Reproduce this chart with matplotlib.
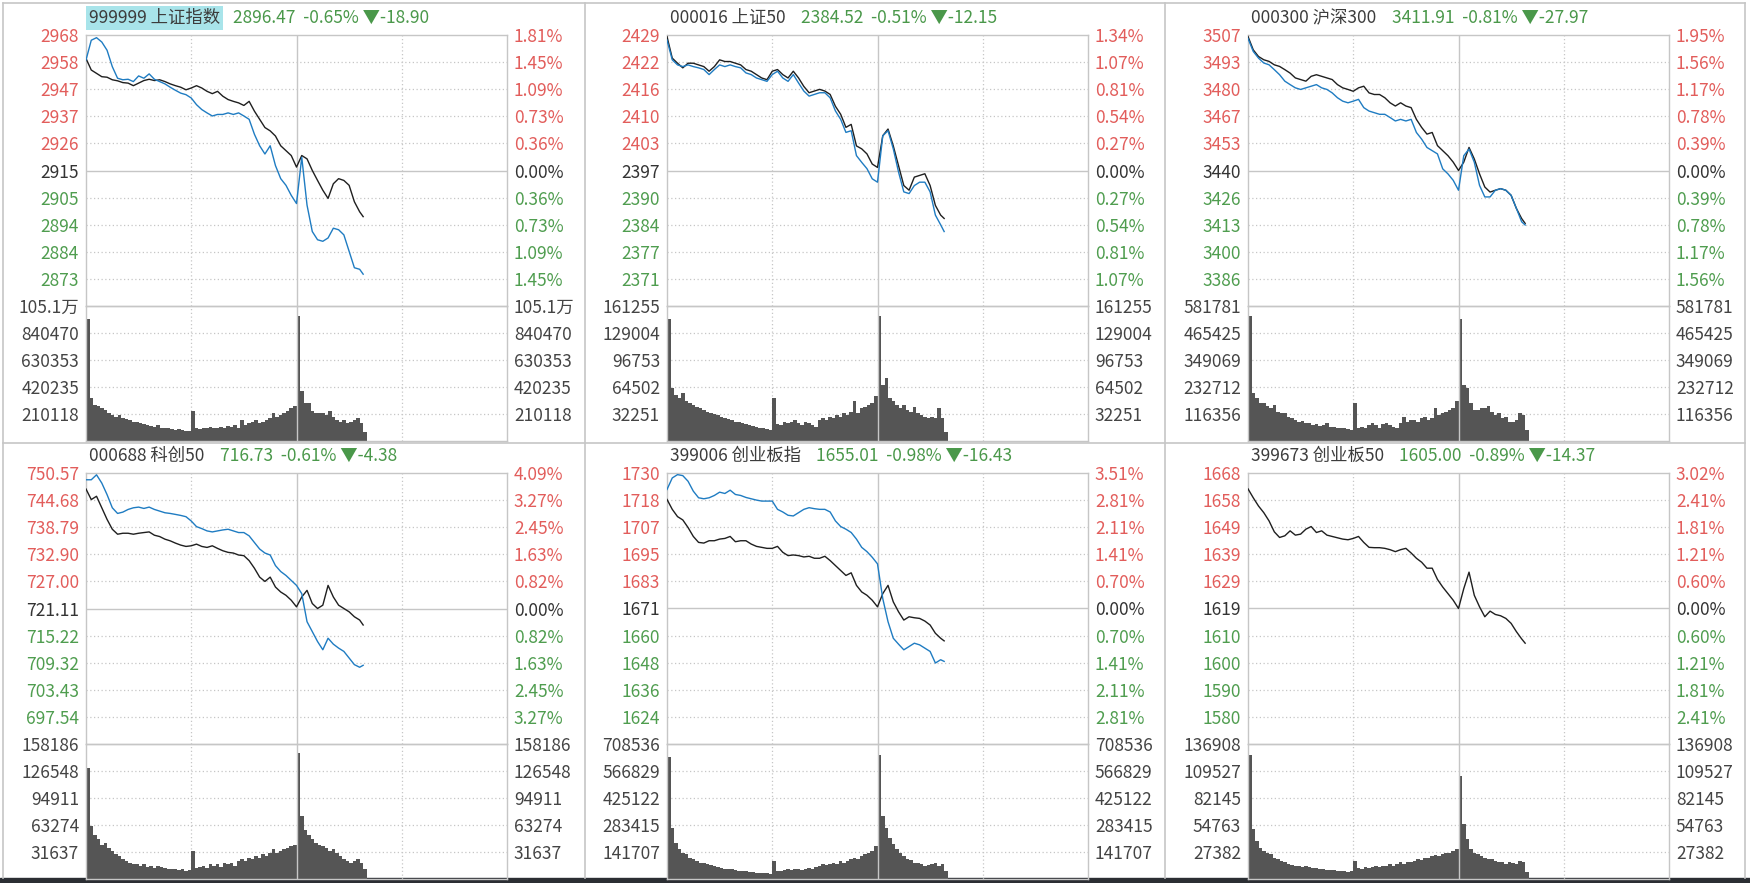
import matplotlib
matplotlib.use('Agg')
import matplotlib.pyplot as plt

plt.rcParams['font.family'] = ['Noto Sans CJK SC', 'DejaVu Sans']

# ---------------- data ----------------
minutes = list(range(0, 157, 3)) + [158]
vol_minutes = list(range(0, 160, 2))

names = ['999999 上证指数', '000016 上证50', '000300 沪深300',
         '000688 科创50', '399006 创业板指', '399673 创业板50']
quotes = ['2896.47  -0.65% ▼-18.90', '2384.52  -0.51% ▼-12.15', '3411.91  -0.81% ▼-27.97',
          '716.73  -0.61% ▼-4.38', '1655.01  -0.98% ▼-16.43', '1605.00  -0.89% ▼-14.37']
prev_close = [2915.37, 2396.67, 3439.88, 721.11, 1671.44, 1619.37]
pct_top = [1.81, 1.34, 1.95, 4.09, 3.51, 3.02]

price_labels = [
    ['2968', '2958', '2947', '2937', '2926', '2915', '2905', '2894', '2884', '2873'],
    ['2429', '2422', '2416', '2410', '2403', '2397', '2390', '2384', '2377', '2371'],
    ['3507', '3493', '3480', '3467', '3453', '3440', '3426', '3413', '3400', '3386'],
    ['750.57', '744.68', '738.79', '732.90', '727.00', '721.11', '715.22', '709.32', '703.43', '697.54'],
    ['1730', '1718', '1707', '1695', '1683', '1671', '1660', '1648', '1636', '1624'],
    ['1668', '1658', '1649', '1639', '1629', '1619', '1610', '1600', '1590', '1580'],
]
pct_labels = [
    ['1.81%', '1.45%', '1.09%', '0.73%', '0.36%', '0.00%', '0.36%', '0.73%', '1.09%', '1.45%'],
    ['1.34%', '1.07%', '0.81%', '0.54%', '0.27%', '0.00%', '0.27%', '0.54%', '0.81%', '1.07%'],
    ['1.95%', '1.56%', '1.17%', '0.78%', '0.39%', '0.00%', '0.39%', '0.78%', '1.17%', '1.56%'],
    ['4.09%', '3.27%', '2.45%', '1.63%', '0.82%', '0.00%', '0.82%', '1.63%', '2.45%', '3.27%'],
    ['3.51%', '2.81%', '2.11%', '1.41%', '0.70%', '0.00%', '0.70%', '1.41%', '2.11%', '2.81%'],
    ['3.02%', '2.41%', '1.81%', '1.21%', '0.60%', '0.00%', '0.60%', '1.21%', '1.81%', '2.41%'],
]
vol_max = [1051.0, 161.255, 581.781, 158.186, 708.536, 136.908]   # thousands
vol_labels = [
    ['105.1万', '840470', '630353', '420235', '210118'],
    ['161255', '129004', '96753', '64502', '32251'],
    ['581781', '465425', '349069', '232712', '116356'],
    ['158186', '126548', '94911', '63274', '31637'],
    ['708536', '566829', '425122', '283415', '141707'],
    ['136908', '109527', '82145', '54763', '27382'],
]

sh_black = [2959.0, 2954.5, 2953.2, 2951.9, 2951.7, 2950.7, 2950.3, 2949.6, 2949.4, 2948.4,
            2949.4, 2950.4, 2950.9, 2950.4, 2950.7, 2950.0, 2949.1, 2948.4, 2947.8, 2946.8,
            2947.5, 2948.4, 2947.5, 2946.2, 2945.3, 2946.2, 2944.3, 2943.0, 2942.3, 2941.7,
            2940.7, 2942.3, 2938.5, 2935.3, 2932.1, 2930.8, 2928.8, 2925.0, 2923.1, 2921.2,
            2916.7, 2921.2, 2919.9, 2915.4, 2911.5, 2907.7, 2904.5, 2910.2, 2912.2, 2911.5,
            2909.6, 2903.2, 2899.3, 2897.4]
sh_blue = [2958.4, 2966.1, 2967.1, 2965.4, 2962.2, 2955.8, 2951.3, 2950.7, 2950.9, 2950.0,
           2952.2, 2951.3, 2953.0, 2950.9, 2950.0, 2949.1, 2947.8, 2946.6, 2945.5, 2944.9,
           2943.6, 2941.0, 2939.1, 2937.8, 2936.6, 2937.2, 2937.2, 2937.8, 2937.2, 2937.8,
           2936.6, 2935.3, 2929.5, 2925.0, 2921.8, 2925.0, 2917.3, 2912.2, 2909.6, 2905.7,
           2902.5, 2920.5, 2901.9, 2891.6, 2888.4, 2887.8, 2889.1, 2892.9, 2892.3, 2890.3,
           2883.9, 2877.5, 2876.9, 2875.0]
sh_vol = [947, 334, 282, 269, 256, 243, 216, 203, 190, 203,
          177, 172, 164, 151, 151, 138, 130, 125, 120, 112,
          125, 104, 99, 104, 94, 86, 94, 86, 78, 78,
          230, 99, 94, 104, 99, 112, 104, 99, 112, 99,
          120, 112, 125, 104, 164, 125, 138, 151, 164, 138,
          151, 164, 177, 216, 190, 203, 216, 230, 256, 269,
          973, 386, 295, 295, 230, 216, 216, 216, 203, 230,
          190, 164, 151, 164, 138, 151, 164, 177, 138, 73]

sz50_black = [2428.4, 2423.3, 2422.1, 2421.0, 2422.1, 2422.1, 2421.7, 2421.3, 2420.2, 2421.3,
              2422.9, 2422.5, 2422.5, 2422.1, 2421.7, 2420.6, 2420.2, 2419.4, 2418.6, 2418.2,
              2420.2, 2420.6, 2419.4, 2418.6, 2420.2, 2418.6, 2416.6, 2415.1, 2415.5, 2415.9,
              2415.5, 2414.7, 2411.9, 2410.0, 2406.9, 2407.6, 2402.5, 2401.8, 2400.6, 2398.2,
              2397.4, 2404.9, 2406.5, 2402.5, 2397.8, 2393.1, 2392.0, 2395.1, 2395.5, 2395.9,
              2393.1, 2388.4, 2386.1, 2385.3]
sz50_blue = [2427.6, 2422.9, 2421.7, 2421.3, 2421.7, 2421.3, 2421.0, 2420.6, 2419.4, 2420.6,
             2421.7, 2421.3, 2421.7, 2421.3, 2421.0, 2419.8, 2419.4, 2418.6, 2418.2, 2417.8,
             2419.4, 2420.2, 2418.6, 2417.8, 2419.4, 2417.4, 2415.5, 2414.3, 2414.7, 2415.1,
             2415.1, 2413.9, 2410.8, 2408.8, 2405.7, 2406.1, 2400.2, 2398.6, 2397.1, 2394.7,
             2393.9, 2404.9, 2406.1, 2401.8, 2396.3, 2391.6, 2391.2, 2393.1, 2393.9, 2393.9,
             2391.6, 2386.1, 2383.8, 2382.2]
sz50_vol = [145.2, 63.2, 55.2, 51.2, 57.2, 47.2, 45.2, 43.2, 41.2, 39.2,
            37.2, 35.2, 33.2, 32.0, 31.2, 29.2, 27.2, 26.4, 25.2, 23.2,
            23.2, 21.2, 20.0, 19.2, 18.4, 17.2, 16.0, 15.2, 14.4, 13.2,
            51.2, 20.0, 19.2, 23.2, 21.2, 23.2, 25.2, 21.2, 19.2, 23.2,
            21.2, 19.2, 17.2, 25.2, 27.2, 25.2, 29.2, 27.2, 31.2, 29.2,
            33.2, 31.2, 35.2, 47.2, 33.2, 39.2, 41.2, 43.2, 45.2, 53.2,
            149.2, 67.2, 75.2, 51.2, 47.2, 43.2, 39.2, 43.2, 37.2, 35.2,
            41.2, 33.2, 31.2, 29.2, 27.2, 29.2, 28.0, 39.2, 27.2, 11.2]

hs300_black = [3506.2, 3499.6, 3496.3, 3494.7, 3493.9, 3492.2, 3491.4, 3489.8, 3488.1, 3485.7,
               3484.9, 3484.1, 3486.5, 3487.3, 3486.5, 3485.7, 3484.9, 3482.4, 3480.8, 3480.0,
               3479.1, 3480.8, 3481.6, 3478.3, 3477.5, 3477.5, 3475.9, 3473.4, 3471.8, 3473.4,
               3471.8, 3471.0, 3465.2, 3461.2, 3457.9, 3458.7, 3452.2, 3449.7, 3447.2, 3444.0,
               3439.9, 3444.0, 3451.3, 3445.6, 3438.2, 3431.7, 3429.2, 3430.1, 3430.9, 3430.1,
               3427.6, 3421.1, 3416.1, 3413.7]
hs300_blue = [3505.3, 3498.8, 3495.5, 3493.1, 3492.2, 3489.8, 3487.3, 3484.1, 3482.4, 3480.8,
              3480.0, 3480.8, 3481.6, 3482.4, 3480.8, 3480.0, 3478.3, 3475.9, 3474.2, 3473.4,
              3474.2, 3475.1, 3471.0, 3469.3, 3468.5, 3467.7, 3467.7, 3466.1, 3464.4, 3465.2,
              3464.4, 3465.2, 3458.7, 3455.4, 3451.3, 3449.7, 3448.1, 3440.7, 3438.2, 3435.0,
              3430.1, 3447.2, 3450.5, 3444.0, 3432.5, 3426.8, 3426.8, 3430.1, 3430.9, 3430.1,
              3427.6, 3421.1, 3414.5, 3412.9]
hs300_vol = [538.5, 206.4, 184.8, 163.1, 163.1, 148.7, 141.5, 155.9, 127.0, 119.8,
             119.8, 105.4, 98.2, 91.0, 83.7, 86.6, 76.5, 76.5, 69.3, 72.2,
             66.4, 69.3, 76.5, 62.1, 62.1, 57.7, 57.7, 54.9, 52.0, 47.6,
             163.1, 57.7, 62.1, 54.9, 69.3, 76.5, 69.3, 57.7, 72.2, 76.5,
             69.3, 62.1, 54.9, 76.5, 105.4, 83.7, 91.0, 91.0, 83.7, 98.2,
             105.4, 91.0, 98.2, 141.5, 112.6, 119.8, 127.0, 134.3, 141.5, 170.3,
             524.0, 242.5, 228.1, 163.1, 134.3, 134.3, 141.5, 141.5, 148.7, 127.0,
             112.6, 119.8, 98.2, 105.4, 83.7, 83.7, 91.0, 119.8, 112.6, 47.6]

kc50_black = [747.12, 744.82, 745.54, 743.03, 740.51, 738.36, 737.28, 737.49, 737.49, 737.28,
              737.49, 737.64, 737.78, 737.06, 736.77, 736.20, 735.84, 735.34, 734.91, 734.62,
              734.76, 735.12, 734.62, 734.40, 734.76, 734.19, 733.68, 733.33, 733.18, 732.75,
              732.61, 731.53, 729.88, 727.94, 727.00, 727.94, 725.78, 724.70, 723.98, 722.91,
              721.47, 723.62, 725.06, 722.19, 721.11, 721.83, 726.14, 723.62, 721.83, 721.11,
              720.39, 719.31, 718.60, 717.52]
kc50_blue = [749.13, 749.13, 750.21, 748.41, 745.90, 743.03, 741.80, 742.09, 742.67, 743.03,
             743.18, 742.89, 743.18, 742.67, 742.31, 741.95, 741.80, 741.59, 741.37, 741.09,
             740.15, 738.93, 738.50, 738.00, 737.78, 738.00, 738.21, 738.36, 738.00, 737.64,
             737.64, 736.92, 735.48, 734.05, 733.18, 732.75, 730.45, 729.16, 728.30, 727.22,
             726.14, 724.34, 718.24, 716.08, 713.92, 712.13, 714.64, 713.35, 712.49, 711.77,
             710.33, 708.89, 708.32, 708.75]
kc50_vol = [129.8, 61.8, 52.1, 46.3, 40.4, 42.4, 36.5, 32.7, 28.8, 26.8,
            22.9, 21.0, 19.0, 17.1, 17.1, 15.2, 17.1, 14.4, 15.2, 13.2,
            15.2, 14.4, 13.2, 12.0, 11.3, 11.3, 10.5, 11.3, 9.3, 10.5,
            32.7, 13.2, 14.4, 15.2, 13.2, 17.1, 15.2, 17.1, 14.4, 19.0,
            17.1, 19.0, 15.2, 21.0, 22.9, 21.0, 24.9, 22.9, 26.8, 24.9,
            28.8, 26.8, 30.7, 34.6, 30.7, 32.7, 34.6, 36.5, 38.5, 40.4,
            147.3, 73.5, 57.9, 52.1, 46.3, 42.4, 40.4, 38.5, 36.5, 32.7,
            34.6, 30.7, 26.8, 22.9, 21.0, 19.0, 21.0, 22.9, 19.0, 11.3]

cyb_black = [1718.66, 1714.37, 1711.22, 1709.79, 1706.50, 1702.64, 1700.06, 1699.77, 1700.78, 1700.78,
             1701.49, 1701.78, 1702.64, 1700.35, 1700.78, 1700.78, 1699.34, 1698.34, 1697.91, 1697.48,
             1697.48, 1698.34, 1695.77, 1694.34, 1694.62, 1694.34, 1693.76, 1694.05, 1693.19, 1693.19,
             1694.05, 1692.19, 1690.04, 1687.90, 1685.75, 1686.89, 1681.46, 1678.60, 1677.16, 1675.02,
             1672.16, 1677.88, 1681.46, 1674.30, 1670.01, 1666.43, 1667.86, 1667.43, 1667.15, 1666.00,
             1664.28, 1660.71, 1658.56, 1657.42]
cyb_blue = [1722.96, 1727.97, 1729.40, 1728.97, 1726.53, 1722.24, 1719.38, 1718.95, 1719.38, 1720.38,
            1721.81, 1721.24, 1722.67, 1720.81, 1720.38, 1719.52, 1718.95, 1718.38, 1717.95, 1717.95,
            1717.95, 1714.37, 1713.23, 1711.80, 1711.51, 1712.94, 1714.37, 1715.09, 1714.66, 1714.37,
            1714.37, 1713.23, 1709.36, 1706.93, 1705.78, 1704.35, 1701.49, 1697.91, 1696.05, 1693.62,
            1690.76, 1675.73, 1665.72, 1658.56, 1655.99, 1653.55, 1654.98, 1656.41, 1655.70, 1654.27,
            1652.84, 1647.83, 1649.26, 1648.54]
cyb_vol = [642.4, 268.1, 189.8, 154.9, 137.5, 128.8, 111.4, 102.7, 94.0, 85.3,
           81.8, 76.6, 71.4, 67.9, 64.4, 59.2, 54.0, 50.5, 50.5, 47.0,
           43.5, 41.8, 40.0, 36.6, 36.6, 33.1, 33.1, 29.6, 29.6, 26.1,
           94.0, 41.8, 41.8, 47.0, 50.5, 47.0, 50.5, 54.0, 47.0, 54.0,
           59.2, 54.0, 64.4, 67.9, 76.6, 71.4, 76.6, 85.3, 76.6, 94.0,
           85.3, 94.0, 102.7, 111.4, 106.2, 120.1, 128.8, 137.5, 146.2, 172.4,
           651.1, 329.0, 268.1, 215.9, 181.1, 154.9, 137.5, 120.1, 106.2, 99.2,
           85.3, 81.8, 76.6, 67.9, 71.4, 76.6, 85.3, 67.9, 76.6, 41.8]

cyb50_black = [1662.55, 1659.33, 1656.35, 1653.96, 1650.98, 1647.04, 1645.01, 1645.61, 1647.40, 1645.85,
               1646.21, 1648.00, 1648.95, 1646.80, 1647.40, 1645.85, 1645.37, 1644.89, 1644.42, 1644.18,
               1644.66, 1645.37, 1643.22, 1641.44, 1641.32, 1641.32, 1641.08, 1640.60, 1639.89, 1640.60,
               1641.08, 1639.41, 1637.50, 1636.07, 1633.92, 1633.92, 1629.87, 1627.12, 1624.74, 1622.35,
               1619.37, 1626.53, 1632.49, 1624.14, 1619.97, 1616.39, 1618.42, 1617.22, 1616.75, 1615.79,
               1614.00, 1611.02, 1608.40, 1606.85]
cyb50_vol = [125.9, 50.3, 38.6, 31.9, 28.5, 26.8, 25.2, 21.8, 20.1, 18.5,
             16.8, 15.1, 14.1, 13.4, 13.4, 11.7, 12.8, 11.7, 10.7, 10.7,
             10.1, 10.1, 9.4, 9.4, 8.7, 8.4, 8.4, 8.1, 7.4, 8.1,
             18.5, 10.7, 10.1, 11.7, 10.7, 11.7, 12.8, 11.7, 13.4, 13.4,
             15.1, 13.4, 15.1, 16.8, 15.1, 17.5, 16.8, 18.5, 20.1, 19.5,
             21.8, 20.8, 23.5, 24.2, 23.5, 25.2, 26.2, 26.8, 28.5, 30.2,
             104.0, 55.4, 40.3, 30.2, 26.8, 25.2, 23.5, 21.8, 20.1, 20.1,
             18.5, 16.8, 16.8, 15.1, 16.8, 16.1, 15.1, 18.5, 16.8, 6.7]

black_lines = [sh_black, sz50_black, hs300_black, kc50_black, cyb_black, cyb50_black]
blue_lines = [sh_blue, sz50_blue, hs300_blue, kc50_blue, cyb_blue, None]
volumes = [sh_vol, sz50_vol, hs300_vol, kc50_vol, cyb_vol, cyb50_vol]

# ---------------- style ----------------
W, H = 1750, 883
RED = '#e25d5b'
GREEN = '#4f9d4f'
NEUTRAL = '#333333'
GRID = '#c6c6c6'
FS = 12.5


def box(x0, y0, x1, y1):
    return [x0 / W, 1 - y1 / H, (x1 - x0) / W, (y1 - y0) / H]


fig = plt.figure(figsize=(17.5, 8.83), dpi=100)

bg = fig.add_axes([0, 0, 1, 1])
bg.set_xlim(0, W)
bg.set_ylim(H, 0)
bg.axis('off')
for x in [3, 585, 1165, 1745]:
    bg.plot([x, x], [3, 878], color=GRID, lw=1.2)
for y in [3, 443]:
    bg.plot([3, 1745], [y, y], color=GRID, lw=1.2)
bg.axhspan(878, 883, color='#2b2e33')


def style_axes(ax):
    for s in ax.spines.values():
        s.set_color(GRID)
        s.set_linewidth(1.0)
    ax.set_xticks([])
    ax.set_xlim(0, 240)
    ax.axvline(120, color=GRID, lw=1.0, zorder=3)
    for x in [60, 180]:
        ax.axvline(x, color=GRID, lw=0.9, ls=(0, (1, 2)), zorder=0)


for i in range(6):
    col, row = i % 3, i // 3
    x0 = 86 + col * 581
    x1 = x0 + 421
    top = 35 + row * 438
    pbot = top + 271
    vbot = pbot + 135

    prev = prev_close[i]
    step = prev * pct_top[i] / 100 / 5
    ticks = [prev + k * step for k in range(5, -5, -1)]
    colors = [RED] * 5 + [NEUTRAL] + [GREEN] * 4

    # price panel
    ax = fig.add_axes(box(x0, top, x1, pbot))
    ax.set_facecolor('none')
    style_axes(ax)
    ax.set_ylim(prev - 5 * step, prev + 5 * step)
    ax.axhline(prev, color=GRID, lw=1.0, zorder=1)
    for t in ticks[1:]:
        if abs(t - prev) > 1e-9:
            ax.axhline(t, color=GRID, lw=0.9, ls=(0, (1, 2)), zorder=0)
    ax.plot(minutes, black_lines[i], color='#1f1f1f', lw=1.0, zorder=4)
    if blue_lines[i] is not None:
        ax.plot(minutes, blue_lines[i], color='#1f7cc2', lw=1.0, zorder=5)
    ax.set_yticks(ticks)
    ax.set_yticklabels(price_labels[i])
    ax.tick_params(axis='y', length=0, pad=5, labelsize=FS)
    for lbl, c in zip(ax.get_yticklabels(), colors):
        lbl.set_color(c)

    axr = ax.twinx()
    axr.set_ylim(ax.get_ylim())
    for s in axr.spines.values():
        s.set_visible(False)
    axr.set_yticks(ticks)
    axr.set_yticklabels(pct_labels[i])
    axr.tick_params(axis='y', length=0, pad=5, labelsize=FS)
    for lbl, c in zip(axr.get_yticklabels(), colors):
        lbl.set_color(c)

    # volume panel
    av = fig.add_axes(box(x0, pbot, x1, vbot))
    av.set_facecolor('none')
    style_axes(av)
    vmax = vol_max[i]
    av.set_ylim(0, vmax)
    vticks = [vmax * k / 5 for k in range(5, 0, -1)]
    for t in vticks[1:]:
        av.axhline(t, color=GRID, lw=0.9, ls=(0, (1, 2)), zorder=0)
    av.bar(vol_minutes, volumes[i], width=2, align='edge', color='#555555',
           linewidth=0, zorder=2)
    av.set_yticks(vticks)
    av.set_yticklabels(vol_labels[i])
    av.tick_params(axis='y', length=0, pad=5, labelsize=FS, labelcolor='#444444')
    avr = av.twinx()
    avr.set_ylim(0, vmax)
    for s in avr.spines.values():
        s.set_visible(False)
    avr.set_yticks(vticks)
    avr.set_yticklabels(vol_labels[i])
    avr.tick_params(axis='y', length=0, pad=5, labelsize=FS, labelcolor='#444444')

    # header
    hdr_kw = dict(fontsize=FS, va='center', ha='left', color='#3c3c3c')
    if i == 0:
        hdr_kw['bbox'] = dict(boxstyle='square,pad=0.15', fc='#a8e4ea', ec='none')
    name_txt = fig.text((x0 + 3) / W, 1 - (top - 17) / H, names[i], **hdr_kw)
    ax.annotate(quotes[i], xy=(1, 0.5), xycoords=name_txt,
                xytext=(9 if i == 0 else 11, 0), textcoords='offset points',
                va='center', ha='left', fontsize=FS, color='#4a984a')

fig.savefig('out.png', dpi=100)
